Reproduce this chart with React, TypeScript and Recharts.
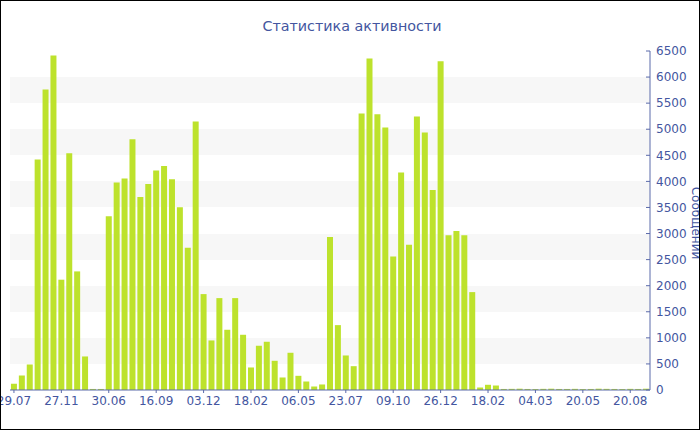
import { Bar, BarChart, CartesianGrid, XAxis, YAxis } from "recharts";

const tickLabels = [
  "29.07", "27.11", "30.06", "16.09", "03.12", "18.02", "06.05",
  "23.07", "09.10", "26.12", "18.02", "04.03", "20.05", "20.08",
];

const messages = [
  120, 278, 489, 4418, 5762, 6414, 2115, 4539, 2274, 643,
  20, 20, 3330, 3977, 4053, 4808, 3701, 3950, 4207, 4296,
  4040, 3503, 2729, 5148, 1839, 950, 1762, 1155, 1762, 1059,
  432, 848, 925, 560, 240, 714, 272, 163, 67, 106,
  2933, 1244, 662, 457, 5301, 6357, 5288, 5032, 2562, 4169,
  2787, 5244, 4937, 3835, 6305, 2965, 3048, 2965, 1877, 48,
  100, 86, 20, 22, 25, 20, 18, 22, 25, 20,
  20, 22, 18, 20, 25, 22, 20, 18, 22, 20, 25,
];

const yTicks = [0, 500, 1000, 1500, 2000, 2500, 3000, 3500, 4000, 4500, 5000, 5500, 6000, 6500];
const yMinorTicks = [250, 750, 1250, 1750, 2250, 2750, 3250, 3750, 4250, 4750, 5250, 5750, 6250];

const data = messages.map((v, i) => ({
  label: i % 6 === 0 ? tickLabels[i / 6] ?? "" : "",
  value: v,
}));

const textColor = "#4456a0";
const axisColor = "#5a6aaa";

export default function App() {
  return (
    <div
      style={{
        position: "fixed",
        top: 0,
        left: 0,
        width: 700,
        height: 430,
        boxSizing: "border-box",
        border: "1px solid #000",
        background: "#fff",
        overflow: "hidden",
      }}
    >
      <div style={{ position: "absolute", top: -1, left: -1 }}>
        <BarChart
          width={700}
          height={430}
          data={data}
          margin={{ top: 51, right: 0, left: 10, bottom: 10 }}
          barCategoryGap="12%"
          style={{ fontFamily: "DejaVu Sans" }}
        >
          <text x={352} y={31} textAnchor="middle" fontSize={14.3} fill={textColor} fontFamily="DejaVu Sans">
            Статистика активности
          </text>
          <text
            x={696}
            y={223}
            transform="rotate(90 696 223)"
            textAnchor="middle"
            dominantBaseline="central"
            fontSize={12}
            fill={textColor}
            fontFamily="DejaVu Sans"
          >
            Сообщений
          </text>
          <CartesianGrid
            vertical={false}
            stroke="transparent"
            horizontalFill={["#ffffff", "#f7f7f7"]}
          />
          <XAxis
            dataKey="label"
            interval={5}
            height={30}
            tick={{ fontSize: 12, fill: textColor }}
            tickSize={3}
            tickMargin={3}
            tickLine={{ stroke: axisColor }}
            axisLine={{ stroke: axisColor }}
          />
          <YAxis
            yAxisId="minor"
            orientation="right"
            domain={[0, 6500]}
            ticks={yMinorTicks}
            width={0}
            tick={false}
            tickSize={3}
            tickLine={{ stroke: axisColor, transform: "translate(-3, 0)" }}
            axisLine={false}
          />
          <YAxis
            orientation="right"
            domain={[0, 6500]}
            ticks={yTicks}
            width={50}
            tick={{ fontSize: 12, fill: textColor }}
            tickSize={4}
            tickMargin={2}
            tickLine={{ stroke: axisColor, transform: "translate(-4, 0)" }}
            axisLine={{ stroke: axisColor }}
          />
          <Bar dataKey="value" fill="#bde22c" isAnimationActive={false} />
        </BarChart>
      </div>
    </div>
  );
}
